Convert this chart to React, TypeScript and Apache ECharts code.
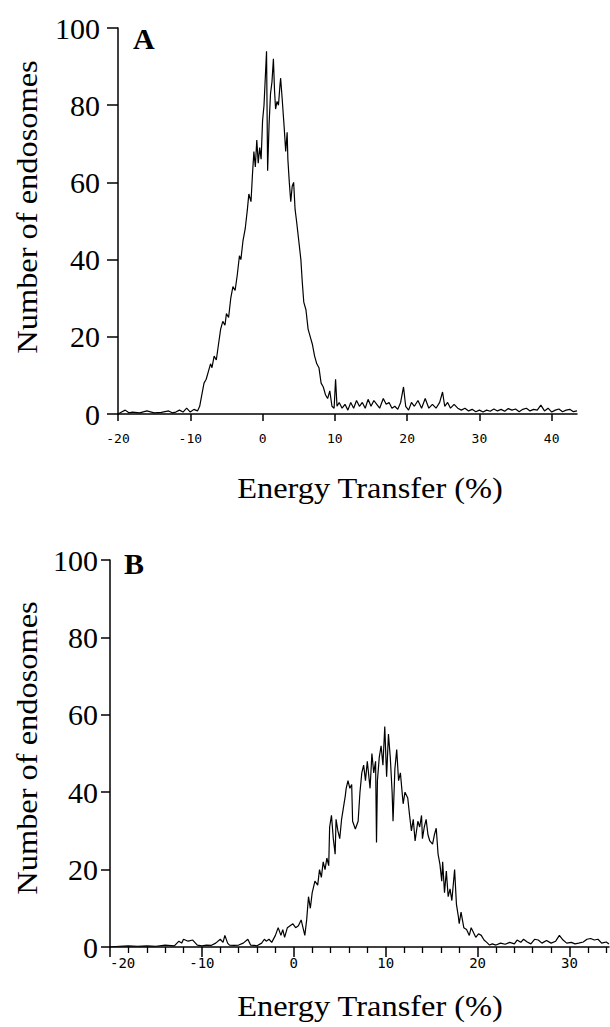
import React, { useEffect, useRef } from "react";
import * as echarts from "echarts";

// Panel A: [energy transfer %, number of endosomes]
const panelA: [number, number][] = [
  [-20, 0], [-19.5, 0.5], [-19, 1], [-18.5, 0.3], [-18, 0.5], [-17, 0.3], [-16, 0.8], [-15, 0.3],
  [-14, 0.4], [-13, 0.8], [-12.5, 0.3], [-12, 0.5], [-11.5, 1], [-11, 0.5], [-10.5, 1.5], [-10, 0.5],
  [-9.5, 1.2], [-9, 0.8], [-8.7, 2], [-8.4, 5], [-8.1, 8], [-7.8, 9], [-7.5, 11], [-7.2, 13],
  [-7.0, 12], [-6.7, 15], [-6.4, 14], [-6.1, 18], [-5.8, 22], [-5.5, 24], [-5.2, 23], [-5.0, 26],
  [-4.7, 25], [-4.4, 30], [-4.1, 33], [-3.8, 32], [-3.5, 36], [-3.2, 41], [-3.0, 40], [-2.7, 45],
  [-2.4, 48], [-2.1, 53], [-1.9, 57], [-1.6, 55], [-1.4, 62], [-1.2, 68], [-1.0, 64], [-0.8, 71],
  [-0.6, 65], [-0.4, 69], [-0.2, 66], [0.0, 76], [0.2, 80], [0.4, 88], [0.55, 94], [0.7, 63],
  [0.9, 75], [1.1, 83], [1.3, 86], [1.5, 92], [1.65, 84], [1.8, 79], [2.0, 81], [2.2, 80],
  [2.4, 85], [2.5, 87], [2.7, 82], [2.85, 78], [3.0, 74], [3.2, 68], [3.4, 73], [3.5, 66],
  [3.7, 60], [3.9, 55], [4.1, 59], [4.3, 60], [4.5, 53], [4.7, 50], [5.0, 45], [5.3, 40],
  [5.5, 34], [5.7, 29], [6.0, 27], [6.3, 22], [6.6, 20], [6.9, 18], [7.2, 15], [7.5, 13],
  [7.8, 12], [8.1, 8], [8.4, 7], [8.7, 5], [9.0, 4], [9.3, 6], [9.6, 2], [9.9, 1.5],
  [10.1, 9], [10.3, 2], [10.6, 3], [11, 1.5], [11.4, 2.5], [11.8, 1], [12.2, 3], [12.6, 1.5],
  [13, 3.5], [13.4, 2], [13.8, 3], [14.2, 1.5], [14.6, 3.8], [15, 2], [15.4, 3.5], [15.8, 2.5],
  [16.2, 1.5], [16.7, 4], [17.1, 2.5], [17.5, 3], [17.9, 1.5], [18.3, 2], [18.7, 1.2], [19.1, 3],
  [19.5, 7], [19.8, 2], [20.2, 1], [20.6, 3], [21, 2], [21.5, 3.5], [22, 1.5], [22.5, 4],
  [23, 1.5], [23.5, 2.5], [24, 1.5], [24.5, 3], [24.9, 5.7], [25.2, 2], [25.6, 3], [26, 1.5],
  [26.5, 2.5], [27, 1.5], [27.5, 1], [28, 1.5], [28.5, 0.8], [29, 1.2], [29.5, 0.6], [30, 1],
  [30.5, 0.5], [31, 1], [31.5, 0.7], [32, 1.3], [32.5, 0.8], [33, 1.2], [33.5, 0.7], [34, 1.4],
  [34.5, 1], [35, 1.3], [35.5, 0.6], [36, 1.2], [36.5, 1.5], [37, 0.8], [37.5, 1.2], [38, 1],
  [38.5, 2.3], [39, 0.8], [39.5, 1.5], [40, 0.5], [40.5, 1], [41, 1.3], [41.5, 0.6], [42, 1],
  [42.5, 1.2], [43, 0.6], [43.5, 0.8],
];

// Panel B: [energy transfer %, number of endosomes]
const panelB: [number, number][] = [
  [-20, 0], [-19, 0.2], [-18, 0.3], [-17, 0.2], [-16, 0.3], [-15, 0.2], [-14, 0.5], [-13, 0.3],
  [-12.5, 1.5], [-12.2, 1], [-12, 2], [-11.5, 1.5], [-11, 1.8], [-10.5, 0.5], [-10, 0.3], [-9.5, 0.5],
  [-9, 0.4], [-8.5, 1], [-8, 2], [-7.7, 1.2], [-7.5, 3], [-7.2, 1], [-7, 0.5], [-6.5, 0.4],
  [-6, 0.5], [-5.5, 1], [-5, 2], [-4.7, 0.5], [-4.3, 0.4], [-4, 0.3], [-3.5, 1], [-3.2, 2],
  [-3, 1.5], [-2.7, 2], [-2.4, 1.2], [-2, 3], [-1.7, 5], [-1.4, 3], [-1.2, 4.5], [-1, 2.5],
  [-0.7, 5], [-0.4, 5.5], [-0.1, 6], [0.2, 5], [0.5, 5.5], [0.8, 7], [1.2, 3], [1.4, 7],
  [1.6, 13], [1.8, 10], [2.0, 14], [2.3, 17], [2.6, 16], [2.8, 20], [3.0, 18], [3.2, 22],
  [3.4, 20], [3.6, 23], [3.8, 21], [3.9, 31], [4.1, 34], [4.3, 28], [4.5, 24], [4.6, 33],
  [4.8, 30], [5.0, 28], [5.2, 33], [5.4, 36], [5.6, 39], [5.7, 41], [5.9, 43], [6.1, 41],
  [6.3, 42], [6.4, 32.5], [6.7, 30.5], [7.0, 32.5], [7.2, 40], [7.4, 45], [7.6, 47], [7.8, 43],
  [8.0, 48], [8.3, 41], [8.5, 50], [8.7, 45], [8.9, 48], [9.0, 27], [9.1, 43], [9.3, 49],
  [9.5, 52], [9.7, 47], [9.9, 57], [10.1, 44], [10.3, 55], [10.5, 49], [10.7, 40], [10.8, 32.5],
  [11.0, 46], [11.2, 51], [11.4, 43], [11.6, 45], [11.9, 37], [12.1, 40], [12.4, 38.5], [12.6, 34],
  [12.8, 30], [13.0, 33], [13.2, 27.4], [13.5, 32.5], [13.7, 31], [13.9, 34], [14.0, 28], [14.2, 31],
  [14.4, 33], [14.6, 29], [14.8, 27.4], [15.1, 26.6], [15.3, 29], [15.5, 30.7], [15.7, 24], [15.9, 21.4],
  [16.1, 17], [16.2, 22], [16.4, 14], [16.6, 19.6], [16.8, 13], [17.0, 15], [17.2, 12], [17.5, 20],
  [17.7, 11], [17.9, 8], [18.0, 6], [18.2, 9], [18.5, 5], [18.8, 4.5], [19.1, 3], [19.3, 5],
  [19.5, 4], [19.8, 2.5], [20.1, 3.4], [20.4, 3], [20.7, 1.8], [21.0, 1.2], [21.3, 0.5], [21.6, 0.8],
  [22, 0.5], [22.5, 1], [23, 0.7], [23.5, 1.2], [24, 0.8], [24.3, 1.8], [24.7, 1.2], [25, 2],
  [25.4, 1.3], [25.8, 0.8], [26.2, 2], [26.6, 1.8], [27, 1], [27.5, 1.7], [28, 1], [28.5, 1.5],
  [28.9, 3], [29.3, 1.8], [29.7, 1], [30.2, 1.2], [30.6, 0.8], [31, 1], [31.5, 1.3], [31.9, 2],
  [32.3, 2.2], [32.7, 1.8], [33.1, 2], [33.5, 1], [34, 1.3], [34.3, 0.8],
];

const xTicksA = [-20, -10, 0, 10, 20, 30, 40];
const xTicksB = [-20, -10, 0, 10, 20, 30];
const xMinorTicksB = [-18, -16, -14, -12, -8, -6, -4, -2, 2, 4, 6, 8, 12, 14, 16, 18, 22, 24, 26, 28, 32, 34];
const yTicks = [0, 20, 40, 60, 80, 100];

const SERIF = "'Liberation Serif', 'Times New Roman', serif";
const MONO = "'DejaVu Sans Mono', monospace";

export default function App() {
  const ref = useRef<HTMLDivElement>(null);

  useEffect(() => {
    if (!ref.current) return;
    const chart = echarts.init(ref.current, undefined, { renderer: "svg" });
    const black = "#000";

    const yAxisBase = (grid: number, tickLen: number, margin: number) => ({
      type: "value",
      gridIndex: grid,
      position: "left",
      min: 0,
      max: 100,
      interval: 20,
      axisLine: { show: true, onZero: false, lineStyle: { color: black, width: 1.5 } },
      axisTick: { show: true, length: tickLen, customValues: yTicks, lineStyle: { color: black, width: 1.5 } },
      axisLabel: { color: black, fontFamily: SERIF, fontSize: 30, margin },
      splitLine: { show: false },
    });

    const titleFont = `30px ${SERIF}`;

    chart.setOption({
      animation: false,
      backgroundColor: "#fff",
      grid: [
        { left: 118, top: 28, width: 459, height: 386 },
        { left: 110, top: 560, width: 499, height: 387 },
      ],
      xAxis: [
        {
          type: "value",
          gridIndex: 0,
          position: "bottom",
          min: -20,
          max: 43.5,
          axisLine: { show: true, onZero: false, lineStyle: { color: black, width: 1.5 } },
          axisTick: { show: true, length: 7, customValues: xTicksA, lineStyle: { color: black, width: 1.5 } },
          axisLabel: { color: black, fontFamily: MONO, fontSize: 13, margin: 18, customValues: xTicksA },
          splitLine: { show: false },
        },
        {
          type: "value",
          gridIndex: 1,
          position: "bottom",
          min: -20,
          max: 34.3,
          axisLine: { show: true, onZero: false, lineStyle: { color: black, width: 1.5 } },
          axisTick: { show: true, length: 10, customValues: xTicksB, lineStyle: { color: black, width: 1.5 } },
          axisLabel: { color: black, fontFamily: MONO, fontSize: 14, margin: 9, customValues: xTicksB, alignMinLabel: "left" },
          splitLine: { show: false },
        },
        {
          type: "value",
          gridIndex: 1,
          position: "bottom",
          min: -20,
          max: 34.3,
          axisLine: { show: false, onZero: false },
          axisTick: { show: true, length: 6, customValues: xMinorTicksB, lineStyle: { color: black, width: 1.3 } },
          axisLabel: { show: false },
          splitLine: { show: false },
        },
      ],
      yAxis: [yAxisBase(0, 11, 18), yAxisBase(1, 9, 12)],
      series: [
        {
          type: "line",
          xAxisIndex: 0,
          yAxisIndex: 0,
          data: panelA,
          showSymbol: false,
          lineStyle: { color: black, width: 1.2 },
          silent: true,
        },
        {
          type: "line",
          xAxisIndex: 1,
          yAxisIndex: 1,
          data: panelB,
          showSymbol: false,
          lineStyle: { color: black, width: 1.2 },
          silent: true,
        },
      ],
      graphic: [
        { type: "text", x: 133, y: 38, style: { text: "A", font: `bold 30px ${SERIF}`, fill: black, verticalAlign: "middle" } },
        { type: "text", x: 124, y: 563, style: { text: "B", font: `bold 30px ${SERIF}`, fill: black, verticalAlign: "middle" } },
        { type: "text", x: 27, y: 207, rotation: Math.PI / 2, scaleX: 1.08, style: { text: "Number of endosomes", font: titleFont, fill: black, align: "center", verticalAlign: "middle" } },
        { type: "text", x: 27, y: 748, rotation: Math.PI / 2, scaleX: 1.08, style: { text: "Number of endosomes", font: titleFont, fill: black, align: "center", verticalAlign: "middle" } },
        { type: "text", x: 370, y: 488, scaleX: 1.08, style: { text: "Energy Transfer (%)", font: titleFont, fill: black, align: "center", verticalAlign: "middle" } },
        { type: "text", x: 370, y: 1006, scaleX: 1.08, style: { text: "Energy Transfer (%)", font: titleFont, fill: black, align: "center", verticalAlign: "middle" } },
      ],
    });

    return () => chart.dispose();
  }, []);

  return (
    <div
      ref={ref}
      style={{ position: "absolute", left: 0, top: 0, width: 610, height: 1027, background: "#fff" }}
    />
  );
}
